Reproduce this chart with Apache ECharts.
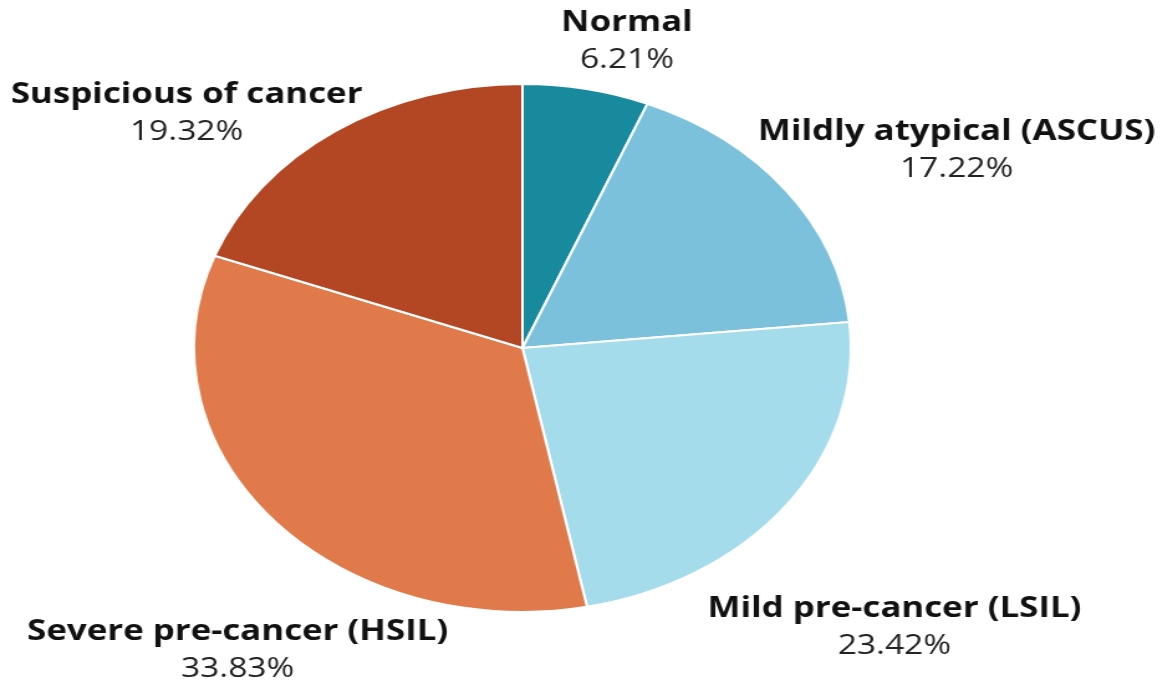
<!DOCTYPE html>
<html>
<head>
<meta charset="utf-8">
<script src="https://cdn.jsdelivr.net/npm/echarts@6/dist/echarts.min.js"></script>
<style>
  html, body { margin: 0; padding: 0; background: #fff; overflow: hidden; }
  /* the reference pie is horizontally stretched, text included */
  #main { width: 938px; height: 684px; transform: scaleX(1.244); transform-origin: 0 0; }
</style>
</head>
<body>
<div id="main"></div>
<script>
// data
var categories = ['Normal', 'Mildly atypical (ASCUS)', 'Mild pre-cancer (LSIL)', 'Severe pre-cancer (HSIL)', 'Suspicious of cancer'];
var percents = [6.21, 17.22, 23.42, 33.83, 19.32];
var colors = ['#188a9e', '#7cc1dc', '#a5dcec', '#e07a4b', '#b34724'];

// where each label block sits (unstretched px)
var labelAnchors = [[504, 42], [769, 151], [719, 628], [191, 651], [150, 114]];

var chart = echarts.init(document.getElementById('main'));
chart.setOption({
  animation: false,
  color: colors,
  series: [{
    type: 'pie',
    center: [420, 348],
    radius: 264,
    startAngle: 90,
    clockwise: true,
    itemStyle: { borderColor: '#fff', borderWidth: 2 },
    label: {
      show: true,
      position: 'outside',
      overflow: 'none',
      edgeDistance: 0,
      formatter: function (p) { return '{n|' + p.name + '}\n{v|' + p.value.toFixed(2) + '%}'; },
      rich: {
        n: { fontFamily: 'Open Sans', fontWeight: 'bold', fontSize: 28, color: '#111', lineHeight: 37, align: 'center' },
        v: { fontFamily: 'Open Sans', fontSize: 27, color: '#222', lineHeight: 37, align: 'center' }
      }
    },
    labelLine: { show: false },
    labelLayout: function (p) {
      var a = labelAnchors[p.dataIndex];
      return { x: a[0], y: a[1], align: 'center', verticalAlign: 'middle' };
    },
    data: categories.map(function (c, i) { return { name: c, value: percents[i] }; })
  }]
});
</script>
</body>
</html>
